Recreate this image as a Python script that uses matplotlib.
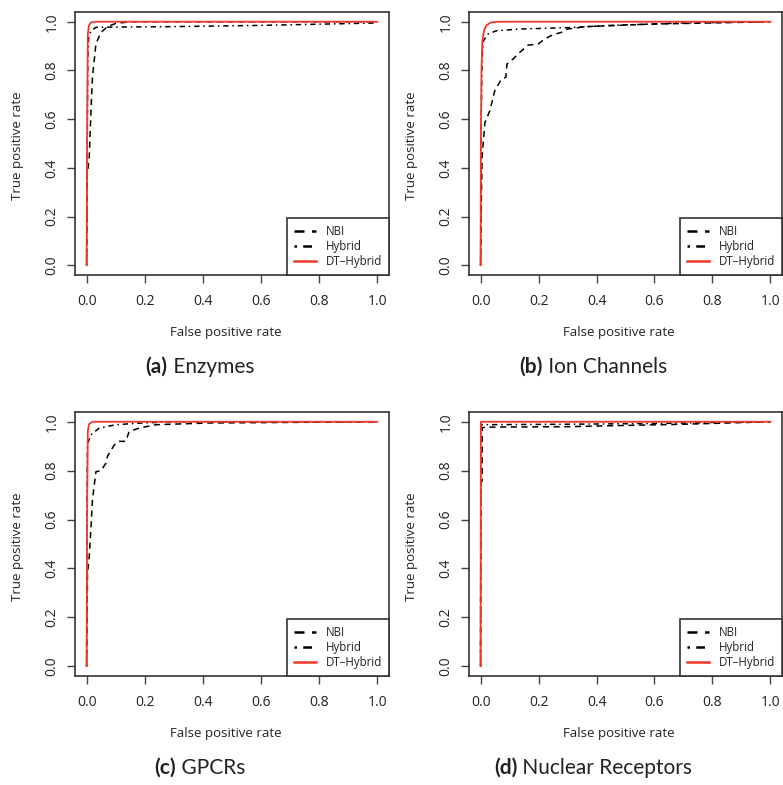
import matplotlib
matplotlib.use('Agg')
import matplotlib.pyplot as plt

# ROC curves (false positive rate, true positive rate)
panels = ['(a)', '(b)', '(c)', '(d)']
names = ['Enzymes', 'Ion Channels', 'GPCRs', 'Nuclear Receptors']
legend_labels = ['NBI', 'Hybrid', 'DT\u2013Hybrid']
ticks = [0.0, 0.2, 0.4, 0.6, 0.8, 1.0]

# (a) Enzymes
nbi_a_fpr = [0, 0.002, 0.009, 0.015, 0.02, 0.032, 0.049, 0.072, 0.1, 0.15, 1.0]
nbi_a_tpr = [0, 0.37, 0.444, 0.635, 0.772, 0.909, 0.956, 0.98, 0.993, 1.0, 1.0]
hyb_a_fpr = [0, 0.002, 0.004, 0.007, 0.015, 0.032, 0.1, 0.3, 0.6, 1.0]
hyb_a_tpr = [0, 0.5, 0.85, 0.936, 0.963, 0.977, 0.978, 0.98, 0.985, 0.995]
dt_a_fpr = [0, 0.002, 0.004, 0.008, 0.015, 0.03, 1.0]
dt_a_tpr = [0, 0.6, 0.95, 0.985, 0.997, 1.0, 1.0]

# (b) Ion Channels
nbi_b_fpr = [0, 0.003, 0.0055, 0.015, 0.032, 0.049, 0.072, 0.087, 0.091, 0.112, 0.135,
             0.164, 0.198, 0.221, 0.25, 0.278, 0.30, 0.364, 0.58, 1.0]
nbi_b_tpr = [0, 0.3, 0.45, 0.587, 0.635, 0.717, 0.765, 0.772, 0.826, 0.847, 0.874,
             0.904, 0.908, 0.929, 0.947, 0.956, 0.97, 0.98, 0.99, 1.0]
hyb_b_fpr = [0, 0.002, 0.005, 0.009, 0.026, 0.055, 0.135, 0.31, 0.45, 0.7, 1.0]
hyb_b_tpr = [0, 0.6, 0.85, 0.92, 0.95, 0.963, 0.97, 0.976, 0.985, 0.995, 1.0]
dt_b_fpr = [0, 0.001, 0.003, 0.006, 0.012, 0.02, 0.035, 0.06, 1.0]
dt_b_tpr = [0, 0.5, 0.8, 0.92, 0.965, 0.985, 0.997, 1.0, 1.0]

# (c) GPCRs
nbi_c_fpr = [0, 0.003, 0.009, 0.015, 0.02, 0.032, 0.049, 0.066, 0.072, 0.095, 0.112,
             0.135, 0.146, 0.18, 0.238, 0.42, 1.0]
nbi_c_tpr = [0, 0.38, 0.45, 0.57, 0.68, 0.796, 0.80, 0.83, 0.86, 0.905, 0.92,
             0.92, 0.96, 0.974, 0.988, 0.995, 1.0]
hyb_c_fpr = [0, 0.001, 0.003, 0.015, 0.043, 0.1, 0.19, 0.3, 1.0]
hyb_c_tpr = [0, 0.6, 0.91, 0.947, 0.974, 0.988, 0.995, 1.0, 1.0]
dt_c_fpr = [0, 0.002, 0.004, 0.008, 0.02, 1.0]
dt_c_tpr = [0, 0.7, 0.96, 0.99, 1.0, 1.0]

# (d) Nuclear Receptors
nbi_d_fpr = [0, 0.001, 0.0055, 0.0055, 0.015, 0.3, 0.5, 0.7, 0.85, 1.0]
nbi_d_tpr = [0, 0.75, 0.76, 0.975, 0.978, 0.98, 0.985, 0.99, 0.995, 1.0]
hyb_d_fpr = [0, 0.001, 0.003, 0.3, 0.6, 0.8, 1.0]
hyb_d_tpr = [0, 0.95, 0.988, 0.99, 0.993, 0.997, 1.0]
dt_d_fpr = [0, 0.001, 1.0]
dt_d_tpr = [0, 1.0, 1.0]

curves = [
    ((nbi_a_fpr, nbi_a_tpr), (hyb_a_fpr, hyb_a_tpr), (dt_a_fpr, dt_a_tpr)),
    ((nbi_b_fpr, nbi_b_tpr), (hyb_b_fpr, hyb_b_tpr), (dt_b_fpr, dt_b_tpr)),
    ((nbi_c_fpr, nbi_c_tpr), (hyb_c_fpr, hyb_c_tpr), (dt_c_fpr, dt_c_tpr)),
    ((nbi_d_fpr, nbi_d_tpr), (hyb_d_fpr, hyb_d_tpr), (dt_d_fpr, dt_d_tpr)),
]

W, H = 783, 785
TICK_FONT = 'Open Sans'
CAP_FONT = 'Lato'
RED = '#f2382b'
TXT = '#222222'

fig = plt.figure(figsize=(W / 100, H / 100), dpi=100)

# axes boxes in pixels: left, top, width, height
boxes = [(75, 12, 314, 263), (469, 12, 313, 263),
         (75, 412, 314, 264), (469, 412, 313, 264)]
caption_pos = [(200, 367), (593, 367), (200, 768), (593, 768)]

styles = [dict(color='black', ls=(0, (4, 3)), lw=1.1),
          dict(color='black', ls=(0, (1, 2.5, 3.5, 2.5)), lw=1.1),
          dict(color=RED, ls='-', lw=1.3)]

for i, (l, t, w, h) in enumerate(boxes):
    ax = fig.add_axes([l / W, 1 - (t + h) / H, w / W, h / H])
    for (fpr, tpr), st, lab in zip(curves[i], styles, legend_labels):
        ax.plot(fpr, tpr, label=lab, **st)
    ax.set_xlim(-0.04, 1.04)
    ax.set_ylim(-0.04, 1.04)
    ax.set_xticks(ticks)
    ax.set_yticks(ticks)
    ax.set_xticklabels(['%.1f' % v for v in ticks], fontfamily=TICK_FONT, fontsize=10, color=TXT)
    ax.set_yticklabels(['%.1f' % v for v in ticks], fontfamily=TICK_FONT, fontsize=10, color=TXT,
                       rotation=90, va='center')
    ax.tick_params(axis='x', length=6, width=1, color='#444', pad=8)
    ax.tick_params(axis='y', length=6, width=1, color='#444', pad=5)
    for sp in ax.spines.values():
        sp.set_color('#333')
        sp.set_linewidth(1.2)

    ax.set_xlabel('False positive rate', fontfamily=TICK_FONT, fontsize=9.5, color=TXT)
    ax.set_ylabel('True positive rate', fontfamily=TICK_FONT, fontsize=9.5, color=TXT)
    # label centres: 58 px below the box, 57 px left of it
    ax.xaxis.set_label_coords(0.48, -58 / h)
    ax.xaxis.label.set_va('center')
    ax.yaxis.set_label_coords(-57 / w, 0.49)
    ax.yaxis.label.set_va('center')

    leg = ax.legend(loc='lower right', borderaxespad=0, fancybox=False, framealpha=1,
                    edgecolor='#333', prop={'family': TICK_FONT, 'size': 8.3},
                    handlelength=1.9, handletextpad=0.85, borderpad=0.62, labelspacing=0.15)
    leg.get_frame().set_linewidth(1.2)
    for line in leg.get_lines():
        line.set_linewidth(1.8)
    for txt in leg.get_texts():
        txt.set_color(TXT)

# captions: bold panel letter followed by regular name, centred as one line
fig.canvas.draw()
renderer = fig.canvas.get_renderer()
for (cx, cy), p, name in zip(caption_pos, panels, names):
    tb = fig.text(0, 1 - cy / H, p, fontfamily=CAP_FONT, fontweight='bold', fontsize=15,
                  color=TXT, va='center', ha='left')
    tr = fig.text(0, 1 - cy / H, ' ' + name, fontfamily=CAP_FONT, fontsize=15,
                  color=TXT, va='center', ha='left')
    wb = tb.get_window_extent(renderer).width
    wr = tr.get_window_extent(renderer).width
    x0 = cx - (wb + wr) / 2
    tb.set_x(x0 / W)
    tr.set_x((x0 + wb) / W)

fig.savefig('out.png', dpi=100)
